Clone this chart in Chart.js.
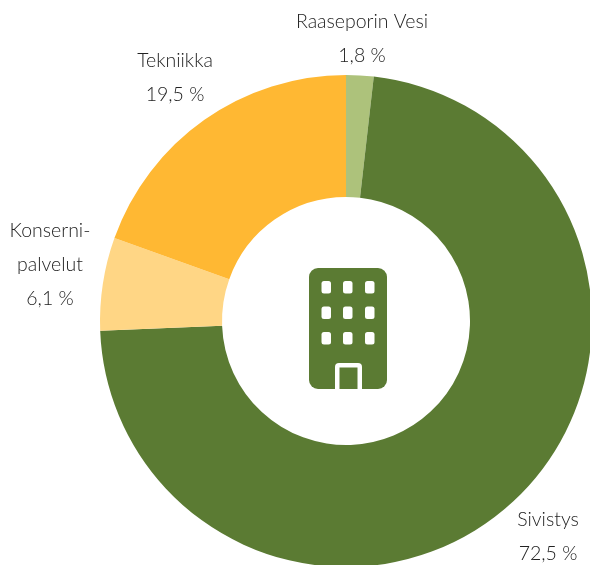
<!DOCTYPE html>
<html>
<head>
<meta charset="utf-8">
<style>
html,body{margin:0;padding:0;background:#fff;overflow:hidden}
#wrap{position:relative;width:590px;height:565px}
</style>
<script src="https://cdn.jsdelivr.net/npm/chart.js@4"></script>
</head>
<body>
<div id="wrap"><canvas id="c" width="590" height="565"></canvas></div>
<script>
const categories = ["Raaseporin Vesi", "Sivistys", "Konserni-palvelut", "Tekniikka"];
const shareValues = [1.8, 72.5, 6.1, 19.5];
const shareLabels = ["1,8 %", "72,5 %", "6,1 %", "19,5 %"];
const sliceColors = ["#ADC27B", "#5B7B33", "#FFD685", "#FFB833"];

const labelLayout = [
  {x: 362, y: 22, lines: ["Raaseporin Vesi", shareLabels[0]]},
  {x: 548, y: 520, lines: ["Sivistys", shareLabels[1]]},
  {x: 50, y: 231, lines: ["Konserni-", "palvelut", shareLabels[2]]},
  {x: 175, y: 61, lines: ["Tekniikka", shareLabels[3]]}
];

const labelsPlugin = {
  id: "sliceLabels",
  afterDraw(chart) {
    const ctx = chart.ctx;
    ctx.save();
    ctx.font = '300 19.5px Lato, "Open Sans", sans-serif';
    ctx.fillStyle = "#222222";
    ctx.textAlign = "center";
    ctx.textBaseline = "middle";
    labelLayout.forEach(l => l.lines.forEach((t, i) => ctx.fillText(t, l.x, l.y + i * 34)));
    ctx.restore();
  }
};

const iconPlugin = {
  id: "buildingIcon",
  afterDraw(chart) {
    const ctx = chart.ctx;
    const arc = chart.getDatasetMeta(0).data[0];
    const cx = arc.x, cy = arc.y;
    const green = sliceColors[1];
    ctx.save();
    ctx.fillStyle = green;
    ctx.beginPath();
    ctx.roundRect(cx - 37, cy - 53, 78, 121, 9);
    ctx.fill();
    ctx.fillStyle = "#ffffff";
    [-24.5, -3, 19].forEach(dx => [-40, -14.5, 11].forEach(dy => {
      ctx.beginPath();
      ctx.roundRect(cx + dx, cy + dy, 9.5, 12.5, 2.5);
      ctx.fill();
    }));
    ctx.beginPath();
    ctx.roundRect(cx - 11, cy + 42, 27, 26, [4, 4, 0, 0]);
    ctx.fill();
    ctx.fillStyle = green;
    ctx.fillRect(cx - 6.5, cy + 46.5, 18, 21.5);
    ctx.restore();
  }
};

new Chart(document.getElementById("c"), {
  type: "doughnut",
  data: {
    labels: categories,
    datasets: [{
      data: shareValues,
      backgroundColor: sliceColors,
      borderWidth: 0,
      clip: false
    }]
  },
  options: {
    responsive: false,
    animation: false,
    radius: 246,
    cutout: 123,
    layout: {padding: {left: 102, top: 77, right: 0, bottom: 0}},
    plugins: {legend: {display: false}, tooltip: {enabled: false}}
  },
  plugins: [labelsPlugin, iconPlugin]
});
</script>
</body>
</html>
